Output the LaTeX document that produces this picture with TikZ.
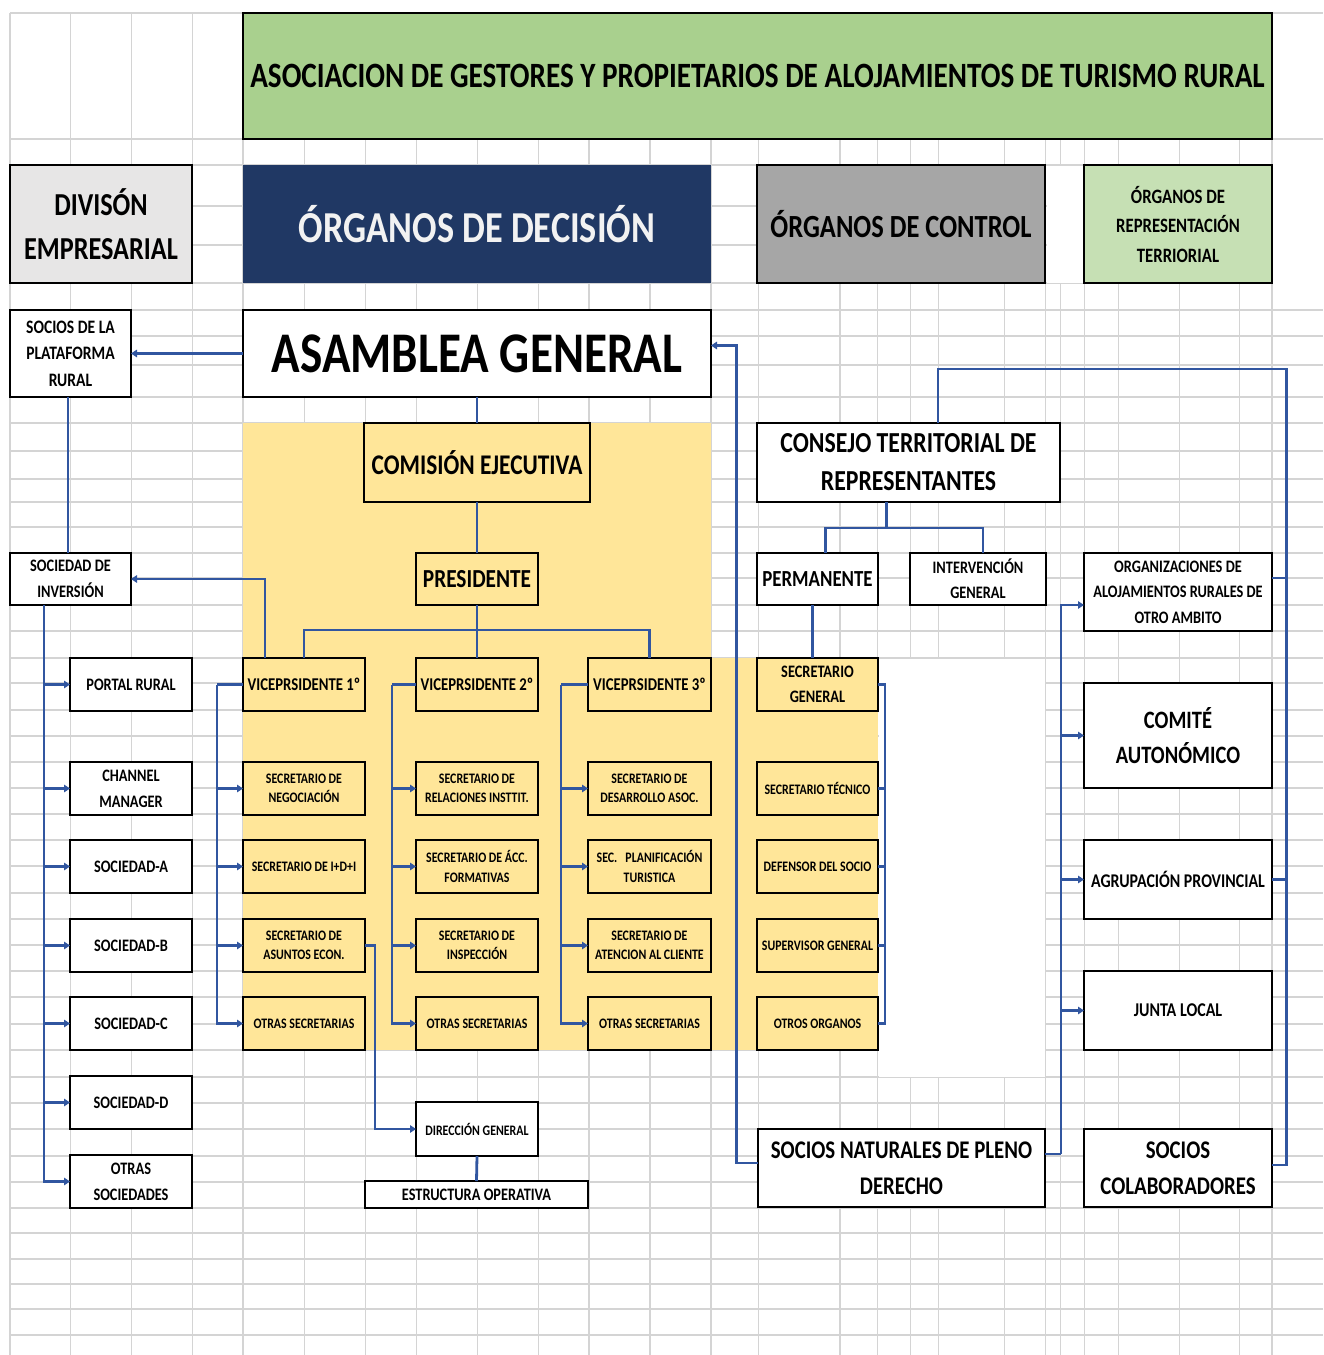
\documentclass[tikz,border=0pt]{standalone}
\usepackage{fontspec}
\setmainfont{Carlito}[FakeStretch=0.82]
\usetikzlibrary{arrows.meta,calc}
\definecolor{titlegreen}{HTML}{A9D08E}
\definecolor{divgray}{HTML}{E7E6E6}
\definecolor{navy}{HTML}{203864}
\definecolor{ctrlgray}{HTML}{A6A6A6}
\definecolor{repgreen}{HTML}{C6E0B4}
\definecolor{boxyellow}{HTML}{FFE699}
\definecolor{connblue}{HTML}{3156A0}
\definecolor{gridgray}{HTML}{D4D4D4}
\tikzset{
  grid line/.style={draw=gridgray, line width=1.1pt},
  box/.style={draw=black, line width=2.8pt, fill=white, inner sep=0pt, outer sep=0pt, align=center, text=black},
  ybox/.style={box, fill=boxyellow},
  fs/.style 2 args={font=\bfseries\fontsize{#1}{#2}\selectfont},
  conn/.style={draw=connblue, line width=2.8pt},
  arr/.style={conn, -{Triangle[length=6pt,width=7.5pt]}}
}
\newcommand\boxnode[7]{\node[#6, minimum width={#4-#2}, minimum height={#5-#3}] (#1) at ({(#2+#4)/2},{(#3+#5)/2}) {#7};}
\begin{document}
\begin{tikzpicture}[x=1pt,y=-1pt]
\useasboundingbox (0,0) rectangle (1323,1355);
\fill[white] (0,0) rectangle (1323,1355);
% spreadsheet grid
\foreach \gx in {10,70.7,131.7,192.7,243,304.5,365.7,416.7,477.7,538.3,589,650,711,758.8,840,877.6,910.6,938.4,1004.7,1045.6,1060.4,1084.6,1118.4,1179.5,1239.5,1272}
  \draw[grid line] (\gx,13) -- (\gx,1355);
\foreach \gy in {13,139,165,206,245,283,310,336,365,397,423,451,479,502,527,553,578,605,631,658,683,710,736,762,788,814,840,866,893,919,945,971,997,1024,1050,1077,1103,1129,1156,1182,1208,1233,1259,1284,1309,1335}
  \draw[grid line] (10,\gy) -- (1323,\gy);
\fill[white] (878.5,658.5) rectangle (1045,1076.5);
\fill[white] (1046.5,166) rectangle (1083.5,282.5);
\fill[white] (1273,140) rectangle (1323,309);
% yellow area
\fill[boxyellow] (243,423) rectangle (711,1050);
\fill[boxyellow] (711,658) rectangle (878,1050);

% header boxes
\boxnode{title}{243}{13}{1272}{139}{box, fill=titlegreen, fs={35.6}{40}}{ASOCIACION DE GESTORES Y PROPIETARIOS DE ALOJAMIENTOS DE TURISMO RURAL}
\boxnode{division}{10}{165}{192}{283}{box, fill=divgray, fs={32}{44}}{DIVISÓN\\EMPRESARIAL}
\boxnode{decision}{243}{165}{711}{283}{box, draw=none, fill=navy, text=white!95!black, fs={44.2}{48}}{ÓRGANOS DE DECISIÓN}
\boxnode{control}{757}{165}{1045}{283}{box, fill=ctrlgray, fs={32.3}{40}}{ÓRGANOS DE CONTROL}
\boxnode{repres}{1084}{165}{1272}{283}{box, fill=repgreen, fs={20.4}{29.5}}{ÓRGANOS DE\\REPRESENTACIÓN\\TERRIORIAL}

% main column
\boxnode{asam}{243}{310}{711}{397}{box, fs={57.5}{60}}{ASAMBLEA GENERAL}
\boxnode{socplat}{10}{310}{131}{397}{box, fs={19}{26.5}}{SOCIOS DE LA\\PLATAFORMA\\RURAL}
\boxnode{com}{364}{423}{590}{502}{ybox, fs={28.5}{32}}{COMISIÓN EJECUTIVA}
\boxnode{pres}{416}{553}{538}{605}{ybox, fs={26}{30}}{PRESIDENTE}
\boxnode{socinv}{10}{553}{131}{605}{box, fs={17.5}{26}}{SOCIEDAD DE\\INVERSIÓN}

% vice presidents
\boxnode{vp1}{243}{658}{365}{711}{ybox, fs={18}{22}}{VICEPRSIDENTE 1º}
\boxnode{vp2}{416}{658}{538}{711}{ybox, fs={18}{22}}{VICEPRSIDENTE 2º}
\boxnode{vp3}{588}{658}{711}{711}{ybox, fs={18}{22}}{VICEPRSIDENTE 3º}

% secretaries
\boxnode{s1a}{243}{762}{365}{815}{ybox, fs={14.5}{19.5}}{SECRETARIO DE\\NEGOCIACIÓN}
\boxnode{s1b}{243}{840}{365}{893}{ybox, fs={14.5}{19.5}}{SECRETARIO DE I+D+I}
\boxnode{s1c}{243}{919}{365}{972}{ybox, fs={14.5}{19.5}}{SECRETARIO DE\\ASUNTOS ECON.}
\boxnode{s1d}{243}{997}{365}{1050}{ybox, fs={14.5}{19.5}}{OTRAS SECRETARIAS}
\boxnode{s2a}{416}{762}{538}{815}{ybox, fs={14.5}{19.5}}{SECRETARIO DE\\RELACIONES INSTTIT.}
\boxnode{s2b}{416}{840}{538}{893}{ybox, fs={14.5}{19.5}}{SECRETARIO DE ÁCC.\\FORMATIVAS}
\boxnode{s2c}{416}{919}{538}{972}{ybox, fs={14.5}{19.5}}{SECRETARIO DE\\INSPECCIÓN}
\boxnode{s2d}{416}{997}{538}{1050}{ybox, fs={14.5}{19.5}}{OTRAS SECRETARIAS}
\boxnode{s3a}{588}{762}{711}{815}{ybox, fs={14.5}{19.5}}{SECRETARIO DE\\DESARROLLO ASOC.}
\boxnode{s3b}{588}{840}{711}{893}{ybox, fs={14.5}{19.5}}{SEC.\ \ \ PLANIFICACIÓN\\TURISTICA}
\boxnode{s3c}{588}{919}{711}{972}{ybox, fs={14.5}{19.5}}{SECRETARIO DE\\ATENCION AL CLIENTE}
\boxnode{s3d}{588}{997}{711}{1050}{ybox, fs={14.5}{19.5}}{OTRAS SECRETARIAS}

% control column
\boxnode{consejo}{757}{423}{1060}{502}{box, fs={29}{38}}{CONSEJO TERRITORIAL DE\\REPRESENTANTES}
\boxnode{perm}{757}{553}{878}{605}{box, fs={23}{26}}{PERMANENTE}
\boxnode{interv}{910}{553}{1046}{605}{box, fs={17.5}{25}}{INTERVENCIÓN\\GENERAL}
\boxnode{secgen}{757}{658}{878}{711}{ybox, fs={17.5}{25}}{SECRETARIO\\GENERAL}
\boxnode{s4a}{757}{762}{878}{815}{ybox, fs={14.5}{19.5}}{SECRETARIO TÉCNICO}
\boxnode{s4b}{757}{840}{878}{893}{ybox, fs={14.5}{19.5}}{DEFENSOR DEL SOCIO}
\boxnode{s4c}{757}{919}{878}{972}{ybox, fs={14.5}{19.5}}{SUPERVISOR GENERAL}
\boxnode{s4d}{757}{997}{878}{1050}{ybox, fs={14.5}{19.5}}{OTROS ORGANOS}

% territorial column
\boxnode{org}{1084}{553}{1272}{631}{box, fs={17.5}{25.5}}{ORGANIZACIONES DE\\ALOJAMIENTOS RURALES DE\\OTRO AMBITO}
\boxnode{comite}{1084}{683}{1272}{788}{box, fs={25}{35}}{COMITÉ\\AUTONÓMICO}
\boxnode{agr}{1084}{840}{1272}{919}{box, fs={19.4}{24}}{AGRUPACIÓN PROVINCIAL}
\boxnode{junta}{1084}{971}{1272}{1050}{box, fs={19.5}{24}}{JUNTA LOCAL}
\boxnode{socnat}{758}{1129}{1045}{1207}{box, fs={25.4}{36}}{SOCIOS NATURALES DE PLENO\\DERECHO}
\boxnode{soccol}{1084}{1129}{1272}{1207}{box, fs={25.4}{36}}{SOCIOS\\COLABORADORES}

% business column
\boxnode{portal}{70}{658}{192}{711}{box, fs={17.5}{26}}{PORTAL RURAL}
\boxnode{channel}{70}{762}{192}{815}{box, fs={17.5}{26}}{CHANNEL\\MANAGER}
\boxnode{socA}{70}{840}{192}{893}{box, fs={17.5}{26}}{SOCIEDAD-A}
\boxnode{socB}{70}{919}{192}{972}{box, fs={17.5}{26}}{SOCIEDAD-B}
\boxnode{socC}{70}{997}{192}{1050}{box, fs={17.5}{26}}{SOCIEDAD-C}
\boxnode{socD}{70}{1076}{192}{1129}{box, fs={17.5}{26}}{SOCIEDAD-D}
\boxnode{otrassoc}{70}{1155}{192}{1208}{box, fs={17.5}{26}}{OTRAS\\SOCIEDADES}

% operational
\boxnode{dirgen}{416}{1102}{538}{1156}{box, fs={14.5}{19.5}}{DIRECCIÓN GENERAL}
\boxnode{estr}{365}{1181}{588}{1208}{box, fs={17.5}{20}}{ESTRUCTURA OPERATIVA}

% ---------- connectors ----------
\draw[arr] (asam.west) -- (socplat.east);
\draw[conn] ([xshift=-2.5]socplat.south) -- ([xshift=-2.5]socinv.north);
\draw[arr] ([xshift=-39]vp1.north) |- (socinv.east);
\coordinate (lt) at ([xshift=-26.5]socinv.south);
\foreach \n in {portal,channel,socA,socB,socC,socD,otrassoc}
  \draw[arr] (lt) |- (\n.west);

\draw[conn] (asam.south) -- (asam.south |- com.north);
\draw[conn] (pres.north |- com.south) -- (pres.north);
\draw[conn] (pres.south) -- (vp2.north);
\draw[conn] (vp1.north) -- ++(0,-28) -| (vp3.north);

\draw[conn] (vp1.west) -- ++(-26,0) coordinate (t1);
\foreach \n in {s1a,s1b,s1c,s1d} \draw[arr] (t1) |- (\n.west);
\draw[conn] (vp2.west) -- ++(-24,0) coordinate (t2);
\foreach \n in {s2a,s2b,s2c,s2d} \draw[arr] (t2) |- (\n.west);
\draw[conn] (vp3.west) -- ++(-27,0) coordinate (t3);
\foreach \n in {s3a,s3b,s3c,s3d} \draw[arr] (t3) |- (\n.west);

\draw[arr] (s1c.east) -- ++(10,0) |- (dirgen.west);
\draw[conn] (dirgen.south) -- (estr.north);

\draw[arr] ([yshift=5]socnat.west) -- ++(-21.5,0) |- ([yshift=8]asam.east);

\draw[conn] ([xshift=-22]consejo.south) -- ++(0,26) coordinate (cb);
\draw[conn] (cb) -| ([xshift=8]perm.north);
\draw[conn] (cb) -| ([xshift=5]interv.north);
\draw[conn] ([xshift=-5]perm.south) -- ([xshift=-5]secgen.north);

\draw[conn] ([xshift=29.5]consejo.north) -- ++(0,-54) -| ($(soccol.east)+(14.5,-3)$) -- ([yshift=3]soccol.east);
\draw[conn] ([yshift=14]org.east) -- ++(14.5,0);
\draw[conn] (agr.east) -- ++(14.5,0);

\draw[conn] ([yshift=14]socnat.east) -- ++(16,0) coordinate (rt);
\draw[arr] (rt) |- ([yshift=-13]org.west);
\draw[arr] (rt) |- (comite.west);
\draw[arr] (rt) |- (agr.west);
\draw[arr] (rt) |- (junta.west);

\draw[conn] (secgen.east) -- ++(7,0) |- (s4d.east);
\foreach \n in {s4a,s4b,s4c} \draw[conn] (\n.east) -- ++(7,0);
\end{tikzpicture}
\end{document}
